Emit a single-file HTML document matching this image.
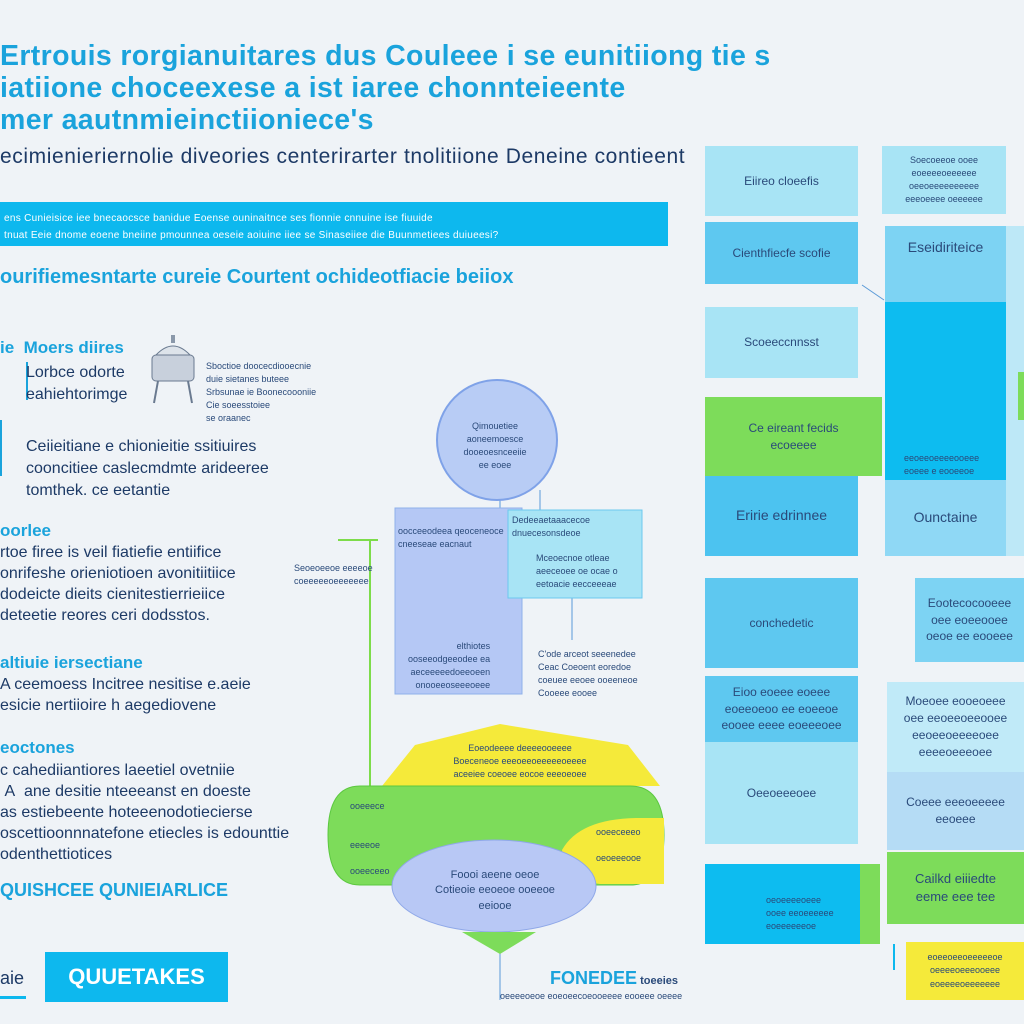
<!DOCTYPE html>
<html><head><meta charset="utf-8"><style>
*{margin:0;padding:0;box-sizing:border-box}
body{width:1024px;height:1024px;background:#eff3f7;position:relative;overflow:hidden;font-family:"Liberation Sans",sans-serif}
.a{position:absolute;white-space:nowrap}
.t{color:#1aa3dc;font-weight:bold;font-size:28.5px;letter-spacing:0.35px}
.b{position:absolute;display:flex;align-items:center;justify-content:center;text-align:center;font-size:12px;color:#2a4a7a;line-height:1.4}
.s{font-size:9px;color:#2a4a7a;line-height:1.45}
.l{font-size:16px;color:#1d3a66}
.h{font-size:17px;color:#1aa3dc;font-weight:bold}
</style></head><body>
<div class="a t" style="left:0;top:40px">Ertrouis rorgianuitares dus Couleee i se eunitiiong tie s</div>
<div class="a t" style="left:0;top:72px">iatiione choceexese a ist iaree chonnteieente</div>
<div class="a t" style="left:0;top:104px">mer aautnmieinctiioniece's</div>
<div class="a" style="left:0;top:145px;font-size:21px;letter-spacing:0.6px;color:#1d3a66">ecimienieriernolie diveories centerirarter tnolitiione Deneine contieent</div>
<div class="a" style="left:0;top:202px;width:668px;height:44px;background:#0db8ee"></div>
<div class="a" style="left:4px;top:210px;font-size:10px;letter-spacing:0.3px;color:#fff;line-height:17px">ens Cunieisice iee bnecaocsce banidue Eoense ouninaitnce ses fionnie cnnuine ise fiuuide<br>tnuat Eeie dnome eoene bneiine pmounnea oeseie aoiuine iiee se Sinaseiiee die Buunmetiees duiueesi?</div>
<div class="a" style="left:0;top:266px;font-size:20px;color:#1aa3dc;font-weight:bold">ourifiemesntarte cureie Courtent ochideotfiacie beiiox</div>
<div class="a h" style="left:0;top:338px;color:#1aa3dc">ie&nbsp;&nbsp;Moers diires</div>
<div class="a" style="left:26px;top:362px;width:2px;height:38px;background:#1aa3dc"></div>
<div class="a l" style="left:26px;top:362px;line-height:22px">Lorbce odorte<br>eahiehtorimge</div>
<div class="a" style="left:148px;top:335px;width:50px;height:70px">
<svg width="50" height="70"><rect x="4" y="20" width="42" height="26" rx="4" fill="#c8d0dc" stroke="#6a7a90"/><path d="M8 20 Q25 2 42 20Z" fill="#dde3ea" stroke="#6a7a90"/><line x1="10" y1="46" x2="6" y2="68" stroke="#6a7a90" stroke-width="2"/><line x1="40" y1="46" x2="44" y2="68" stroke="#6a7a90" stroke-width="2"/><rect x="23" y="0" width="4" height="8" fill="#8a98aa"/></svg></div>
<div class="a s" style="left:206px;top:360px">Sboctioe doocecdiooecnie<br>duie sietanes buteee<br>Srbsunae ie Boonecoooniie<br>Cie soeesstoiee<br>se oraanec</div>
<div class="a" style="left:0;top:420px;width:2px;height:56px;background:#1aa3dc"></div>
<div class="a l" style="left:26px;top:436px;line-height:22px">Ceiieitiane e chionieitie  ssitiuires<br>cooncitiee caslecmdmte arideeree<br>tomthek. ce eetantie</div>
<div class="a h" style="left:0;top:521px">oorlee</div>
<div class="a l" style="left:0;top:542px;line-height:21px">rtoe firee is veil fiatiefie entiifice<br>onrifeshe orieniotioen avonitiitiice<br>dodeicte dieits cienitestierrieiice<br>deteetie reores ceri dodsstos.</div>
<div class="a h" style="left:0;top:653px">altiuie iersectiane</div>
<div class="a l" style="left:0;top:674px;line-height:21px">A ceemoess Incitree nesitise e.aeie<br>esicie nertiioire h aegediovene</div>
<div class="a h" style="left:0;top:738px">eoctones</div>
<div class="a l" style="left:0;top:760px;line-height:21px">c&nbsp;cahediiantiores laeetiel ovetniie<br>&nbsp;A&nbsp; ane desitie nteeeanst en doeste<br>as estiebeente hoteeenodotiecierse<br>oscettioonnnatefone etiecles is edounttie<br>odenthettiotices</div>
<div class="a h" style="left:0;top:880px;font-size:18px">QUISHCEE QUNIEIARLICE</div>
<div class="a" style="left:0;top:968px;font-size:18px;color:#1d3a66">aie</div>
<div class="a" style="left:0;top:996px;width:26px;height:3px;background:#0db8ee"></div>
<div class="b" style="left:45px;top:952px;width:183px;height:50px;background:#0db8ee;color:#fff;font-size:22px;font-weight:bold">QUUETAKES</div>

<svg class="a" style="left:0;top:0" width="1024" height="1024">
<line x1="370" y1="540" x2="370" y2="786" stroke="#7ddc4a" stroke-width="2"/>
<line x1="338" y1="540" x2="378" y2="540" stroke="#7ddc4a" stroke-width="2"/>
<line x1="500" y1="497" x2="500" y2="512" stroke="#5a9ad8"/>
<line x1="540" y1="490" x2="540" y2="512" stroke="#5a9ad8"/>
<line x1="572" y1="598" x2="572" y2="640" stroke="#5a9ad8"/>
<line x1="500" y1="930" x2="500" y2="1000" stroke="#5a9ad8"/>
<line x1="862" y1="285" x2="884" y2="300" stroke="#5a9ad8"/>
<line x1="894" y1="944" x2="894" y2="970" stroke="#0db8ee" stroke-width="2"/>
<circle cx="497" cy="440" r="60" fill="#b8ccf5" stroke="#7fa2e8" stroke-width="2"/>
<rect x="395" y="508" width="127" height="186" fill="#b5c8f5" stroke="#8fb0ea"/>
<rect x="508" y="510" width="134" height="88" fill="#a8e4f5" stroke="#6cc8ee"/>
<polygon points="382,786 415,745 500,724 628,745 660,786" fill="#f5ea3a"/>
<path d="M360 786 H630 Q664 786 664 835 Q664 885 630 885 H360 Q328 885 328 835 Q328 786 360 786Z" fill="#7ddc5a" stroke="#5cc840"/>
<path d="M562 850 Q580 818 640 818 L664 818 L664 884 L600 884 Q565 880 562 850Z" fill="#f5ea3a"/>
<ellipse cx="494" cy="886" rx="102" ry="46" fill="#b8c8f5" stroke="#8fa8e8"/>
<polygon points="462,932 536,932 500,954" fill="#7ddc5a"/>
</svg>
<div class="b s" style="left:450px;top:420px;width:90px">Qimouetiee<br>aoneemoesce<br>dooeoesnceeiie<br>ee eoee</div>
<div class="a s" style="left:398px;top:525px">oocceeodeea qeoceneoce<br>cneeseae eacnaut</div>
<div class="a s" style="left:512px;top:514px">Dedeeaetaaacecoe<br>dnuecesonsdeoe</div>
<div class="a s" style="left:536px;top:552px">Mceoecnoe otleae<br>aeeceoee oe ocae o<br>eetoacie eecceeeae</div>
<div class="a s" style="left:408px;top:640px;text-align:right">elthiotes<br>ooseeodgeeodee ea<br>aeceeeeedoeeoeen<br>onooeeoseeeoeee</div>
<div class="a s" style="left:538px;top:648px">C'ode arceot seeenedee<br>Ceac Coeoent eoredoe<br>coeuee eeoee ooeeneoe<br>Cooeee eooee</div>
<div class="a s" style="left:294px;top:562px">Seoeoeeoe eeeeoe<br>coeeeeeoeeeeeee</div>
<div class="a s" style="left:420px;top:742px;width:200px;text-align:center">Eoeodeeee deeeeooeeee<br>Boeceneoe eeeoeeoeeeeeoeeee<br>aceeiee coeoee eocoe eeeoeoee</div>
<div class="a s" style="left:350px;top:800px">ooeeece<br><br><br>eeeeoe<br><br>ooeeceeo</div>
<div class="a s" style="left:596px;top:826px">ooeeceeeo<br><br>oeoeeeooe</div>
<div class="b" style="left:420px;top:868px;width:150px;font-size:11px">Foooi aeene oeoe<br>Cotieoie eeoeoe ooeeoe eeiooe</div>
<div class="a" style="left:550px;top:968px;font-size:18px;color:#1aa3dc;font-weight:bold">FONEDEE<span style="font-size:11px;color:#2a4a7a"> toeeies</span></div>
<div class="a s" style="left:500px;top:990px">oeeeeoeoe eoeoeecoeooeeee eooeee oeeee</div>

<div class="b" style="left:705px;top:146px;width:153px;height:70px;background:#a8e4f5">Eiireo cloeefis</div>
<div class="b s" style="left:882px;top:146px;width:124px;height:68px;background:#a8e4f5">Soecoeeoe ooee<br>eoeeeeoeeeeee<br>oeeoeeeeeeeeee<br>eeeoeeee oeeeeee</div>
<div class="b" style="left:705px;top:222px;width:153px;height:62px;background:#5ec8f0">Cienthfiecfe scofie</div>
<div class="b" style="left:885px;top:226px;width:121px;height:76px;background:#7dd3f3;align-items:flex-start;padding-top:12px;font-size:14px">Eseidiriteice</div>
<div class="a" style="left:885px;top:302px;width:121px;height:178px;background:#0dbcf0"></div>
<div class="a s" style="left:904px;top:452px">eeoeeoeeeeooeee<br>eoeee e eooeeoe</div>
<div class="a" style="left:1006px;top:226px;width:18px;height:330px;background:#bde8f7"></div>
<div class="a" style="left:1018px;top:372px;width:6px;height:48px;background:#7ddc5a"></div>
<div class="b" style="left:705px;top:307px;width:153px;height:71px;background:#a8e4f5">Scoeeccnnsst</div>
<div class="b" style="left:705px;top:397px;width:177px;height:79px;background:#7ddc5a">Ce eireant fecids<br>ecoeeee</div>
<div class="b" style="left:705px;top:476px;width:153px;height:80px;background:#4cc3f0;font-size:14px">Eririe edrinnee</div>
<div class="b" style="left:885px;top:480px;width:121px;height:76px;background:#8fd8f5;font-size:14px">Ounctaine</div>
<div class="b" style="left:705px;top:578px;width:153px;height:90px;background:#5ec8f0">conchedetic</div>
<div class="b" style="left:915px;top:578px;width:109px;height:84px;background:#7dd3f3">Eootecocooeee<br>oee eoeeooee<br>oeoe ee eooeee</div>
<div class="b" style="left:705px;top:676px;width:153px;height:66px;background:#5ec8f0">Eioo eoeee eoeee<br>eoeeoeoo ee eoeeoe<br>eooee eeee eoeeeoee</div>
<div class="b" style="left:705px;top:742px;width:153px;height:102px;background:#a8e4f5">Oeeoeeeoee</div>
<div class="b" style="left:887px;top:682px;width:137px;height:90px;background:#c0eaf8">Moeoee eooeoeee<br>oee eeoeeoeeooee<br>eeoeeoeeeeoee<br>eeeeoeeeoee</div>
<div class="b" style="left:887px;top:772px;width:137px;height:78px;background:#b5dcf5">Coeee eeeoeeeee<br>eeoeee</div>
<div class="b" style="left:887px;top:852px;width:137px;height:72px;background:#7ddc5a;font-size:13px">Cailkd eiiiedte<br>eeme eee tee</div>
<div class="b" style="left:705px;top:864px;width:155px;height:80px;background:#0dbcf0"></div>
<div class="a s" style="left:766px;top:894px">oeoeeeeoeee<br>ooee eeoeeeeee<br>eoeeeeeeoe</div>
<div class="a" style="left:860px;top:864px;width:20px;height:80px;background:#7ddc5a"></div>
<div class="b s" style="left:906px;top:942px;width:118px;height:58px;background:#f5ea3a">eoeeoeeoeeeeeoe<br>oeeeeoeeeooeee<br>eoeeeeoeeeeeee</div>
</body></html>
